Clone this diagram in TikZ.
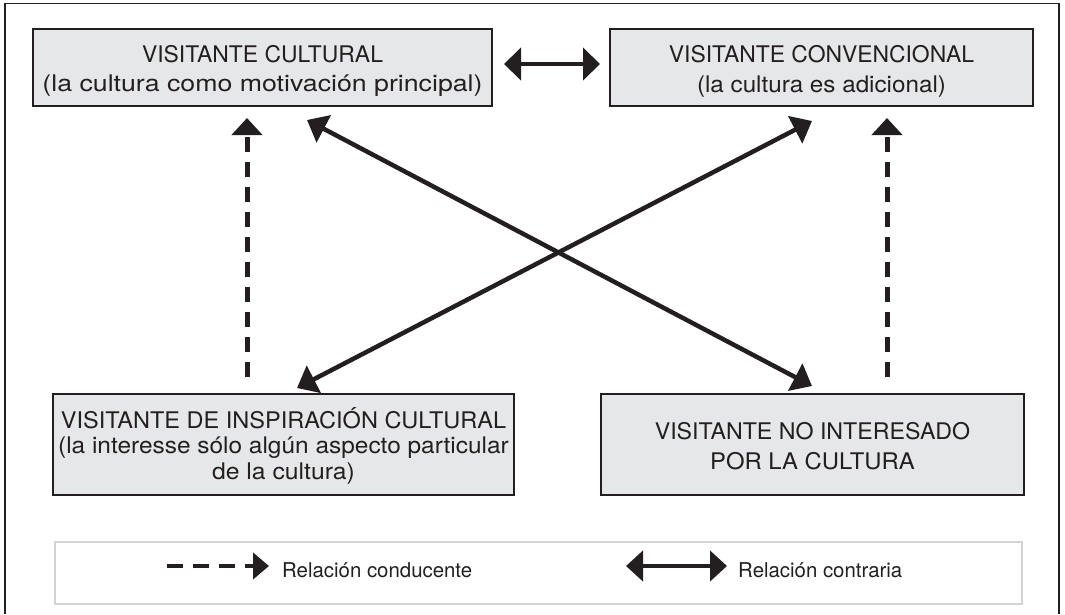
\documentclass[tikz,border=0pt]{standalone}
\usepackage{fontspec}
\usepackage{graphicx}
\setmainfont{TeX Gyre Heros}
\usetikzlibrary{arrows.meta}
\definecolor{boxfill}{RGB}{230,231,232}
\definecolor{ink}{RGB}{35,31,32}
\definecolor{legline}{RGB}{210,211,212}
\newcommand{\hsc}[2]{\scalebox{#1}[1]{#2}}
\begin{document}
\begin{tikzpicture}[x=1pt,y=-1pt,
  box/.style={rectangle,draw=ink,fill=boxfill,line width=2pt,inner sep=0pt},
  legbox/.style={rectangle,draw=legline,fill=white,line width=2pt,inner sep=0pt},
  boxtext/.style={anchor=base,align=center,inner sep=0pt,text=ink},
  legtext/.style={anchor=base west,inner sep=0pt,text=ink,font=\fontsize{20.4}{24}\selectfont},
  solidarrow/.style={draw=ink,line width=4.5pt,{Triangle[length=19pt,width=30pt]}-{Triangle[length=19pt,width=30pt]}},
  hdouble/.style={draw=ink,line width=4.5pt,{Triangle[length=17pt,width=32pt]}-{Triangle[length=17pt,width=32pt]}},
  dasharrow/.style={draw=ink,line width=5pt,dash pattern=on 15pt off 10pt,-{Triangle[length=17pt,width=30pt]}},
  legdash/.style={draw=ink,line width=4.5pt,dash pattern=on 16pt off 10pt,-{Triangle[length=16pt,width=26pt]}},
  legdouble/.style={draw=ink,line width=4.5pt,{Triangle[length=17pt,width=30pt]}-{Triangle[length=17pt,width=30pt]}}
]
\useasboundingbox (0,0) rectangle (1065,614);
\fill[white] (0,0) rectangle (1065,614);
% outer frame
\draw[ink,line width=1.5pt] (5,614) -- (5,3.5) -- (1059,3.5) -- (1059,614);

% boxes
\node[box,minimum width=459pt,minimum height=77pt] (b1) at (262.5,67.5) {};
\node[box,minimum width=423pt,minimum height=77pt] (b2) at (821.5,67.5) {};
\node[box,minimum width=461pt,minimum height=101pt] (b3) at (283.5,444.5) {};
\node[box,minimum width=423pt,minimum height=101pt] (b4) at (812.5,444.5) {};

\node[boxtext,font=\fontsize{22.9}{29}\selectfont] (t1) at (262.5,91)
  {VISITANTE CULTURAL\\\hsc{1.167}{(la cultura como motivación principal)}};
\node[boxtext,font=\fontsize{22.9}{29.4}\selectfont] (t2) at (821.5,92)
  {VISITANTE CONVENCIONAL\\\hsc{1.058}{(la cultura es adicional)}};
\node[boxtext,font=\fontsize{22.9}{25.5}\selectfont] (t3) at (283.5,479)
  {\hsc{1.027}{VISITANTE DE INSPIRACIÓN CULTURAL}\\\hsc{1.067}{(la interesse sólo algún aspecto particular}\\\hsc{1.08}{de la cultura)}};
\node[boxtext,font=\fontsize{22.9}{30}\selectfont] (t4) at (812.5,469)
  {\hsc{1.012}{VISITANTE NO INTERESADO}\\\hsc{1.042}{POR LA CULTURA}};

% connector end points
\coordinate (h1) at (504,64);
\coordinate (h2) at (600,64);
\coordinate (dl1) at (247,377);
\coordinate (dl2) at (247,118);
\coordinate (dr1) at (887,377);
\coordinate (dr2) at (887,118);
\coordinate (xa1) at (307,120);
\coordinate (xa2) at (812,386);
\coordinate (xb1) at (812,121);
\coordinate (xb2) at (297,388);

\draw[hdouble] (h1) -- (h2);
\draw[dasharrow] (dl1) -- (dl2);
\draw[dasharrow] (dr1) -- (dr2);
\draw[solidarrow] (xa1) -- (xa2);
\draw[solidarrow] (xb1) -- (xb2);

% legend
\node[legbox,minimum width=967pt,minimum height=62pt] (leg) at (538.5,573) {};
\coordinate (ld1) at (167,566);
\coordinate (ld2) at (269,566);
\coordinate (lc1) at (626,566);
\coordinate (lc2) at (727,566);
\draw[legdash] (ld1) -- (ld2);
\draw[legdouble] (lc1) -- (lc2);
\node[legtext] (lt1) at (282,577) {Relación conducente};
\node[legtext] (lt2) at (738,577) {Relación contraria};
\end{tikzpicture}
\end{document}
